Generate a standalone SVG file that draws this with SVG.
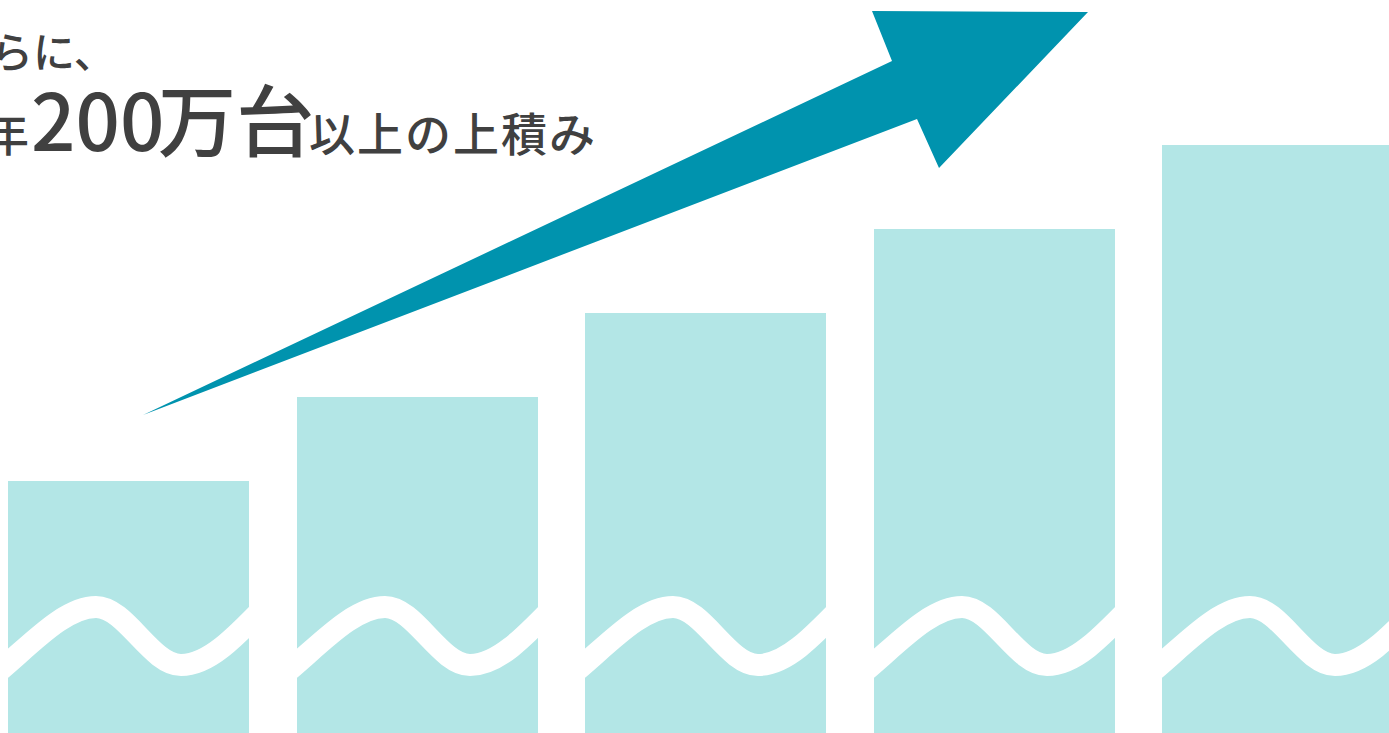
<svg xmlns="http://www.w3.org/2000/svg" width="1389" height="733" viewBox="0 0 1389 733">
  <style>
    .bar { fill: #b3e6e6; }
    .wave { fill: none; stroke: #ffffff; stroke-width: 22; stroke-linecap: butt; }
    .txt { font-family: "Noto Sans CJK JP", "Noto Sans", sans-serif; font-weight: 500; fill: #404040; }
    .arrow { fill: #0093ae; }
  </style>
  <defs>
    <path id="wv" class="wave" d="M -15,676 C 20,648 55,607 88,607 C 118,607 143,665 173,665 C 200,665 225,640 265,598"/>
  </defs>
  <rect width="1389" height="733" fill="#ffffff"/>

  <g id="bar1" transform="translate(8,0)">
    <rect class="bar" x="0" y="481" width="241" height="260"/>
    <use href="#wv"/>
  </g>
  <g id="bar2" transform="translate(297,0)">
    <rect class="bar" x="0" y="397" width="241" height="344"/>
    <use href="#wv"/>
  </g>
  <g id="bar3" transform="translate(585,0)">
    <rect class="bar" x="0" y="313" width="241" height="428"/>
    <use href="#wv"/>
  </g>
  <g id="bar4" transform="translate(874,0)">
    <rect class="bar" x="0" y="229" width="241" height="512"/>
    <use href="#wv"/>
  </g>
  <g id="bar5" transform="translate(1162,0)">
    <rect class="bar" x="0" y="145" width="241" height="596"/>
    <use href="#wv"/>
  </g>

  <g id="connectors">
    <polygon id="arrow" class="arrow" points="143,415 892,61 872,11 1088,12 939,168 917,119"/>
  </g>

  <g id="title">
    <text class="txt" x="-9" y="68" font-size="42">らに、</text>
    <text class="txt" y="151">
      <tspan x="-17" font-size="46">年</tspan><tspan x="31" font-size="78">200</tspan><tspan x="158" font-size="78">万台</tspan><tspan x="309" font-size="46" letter-spacing="2">以上の上積み</tspan>
    </text>
  </g>
</svg>
